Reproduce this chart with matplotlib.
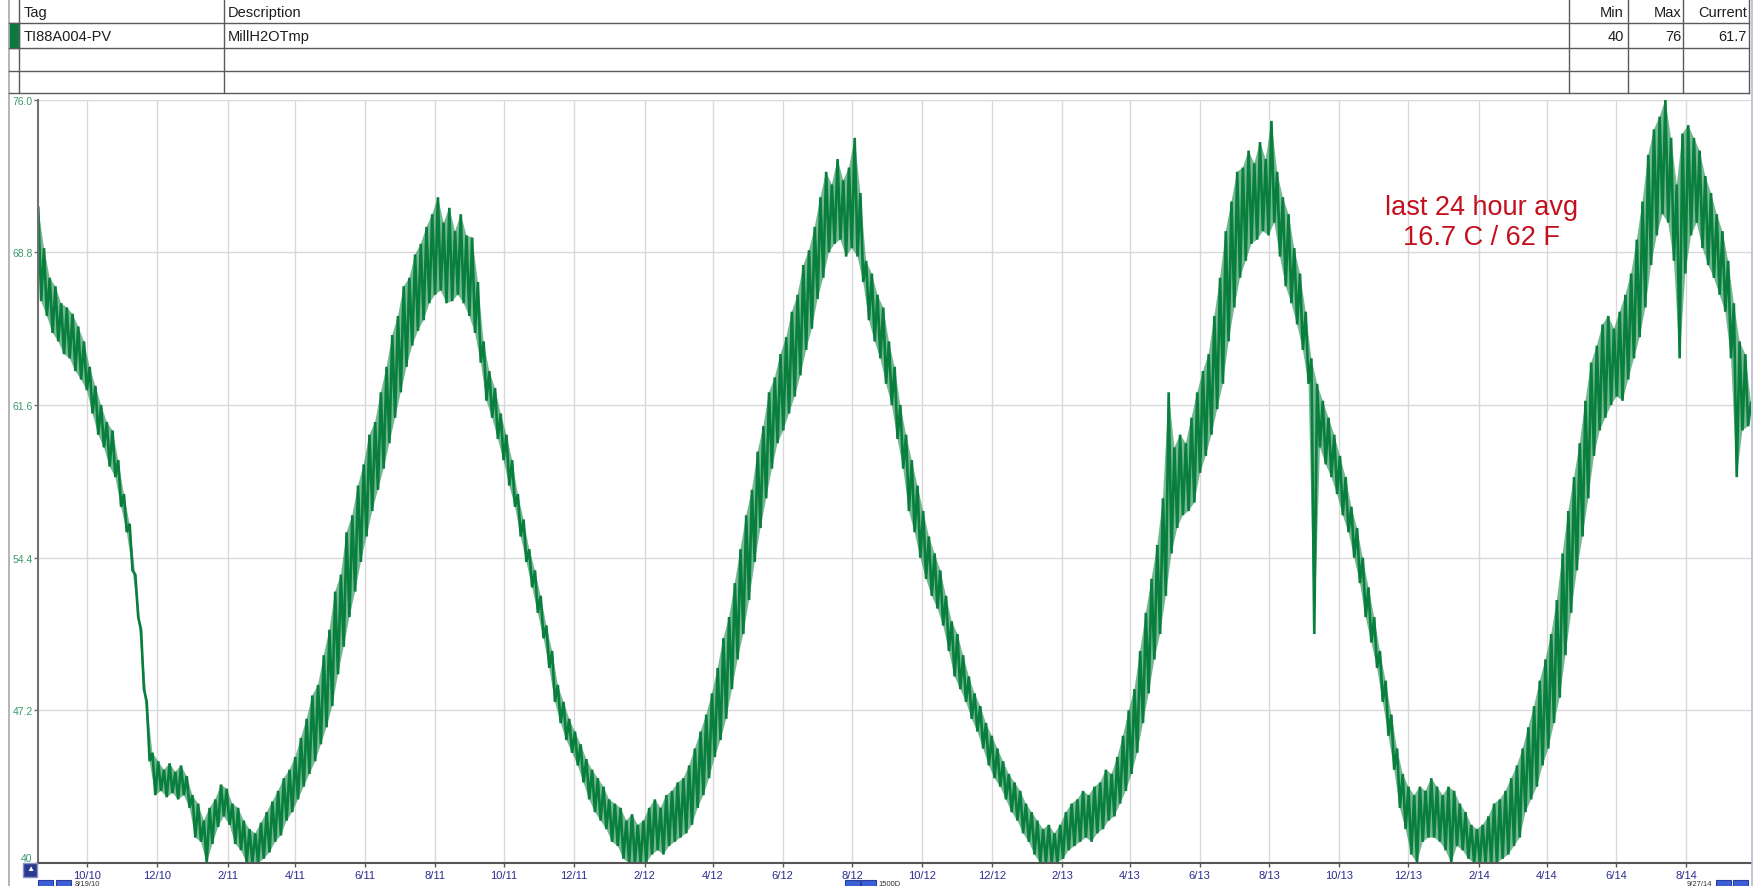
import numpy as np
import pandas as pd
import matplotlib
matplotlib.use("Agg")
import matplotlib.pyplot as plt
from matplotlib.lines import Line2D
from matplotlib.patches import Rectangle

plt.rcParams['font.family'] = ['Liberation Sans', 'DejaVu Sans']

W, H = 1756, 887
start = pd.Timestamp('2010-08-19')
end = pd.Timestamp('2014-09-27')   # 1500 days

# top / bottom of the noisy trace, read every 5 days (bottom read 2.5 days later)
upper = [70.9, 69.0, 67.6, 67.2, 66.4, 66.2, 65.9, 65.3, 64.6, 63.4,
         62.5, 61.6, 60.8, 60.4, 59.0, 57.4, 56.0, 53.6, 51.0, 47.6,
         45.2, 44.8, 44.4, 44.7, 44.3, 44.6, 44.1, 43.2, 42.8, 42.0,
         42.6, 43.0, 43.7, 43.5, 42.8, 42.6, 42.0, 41.6, 41.4, 41.9,
         42.4, 42.9, 43.4, 44.0, 44.4, 45.0, 45.9, 46.8, 47.9, 48.4,
         49.8, 51.0, 52.8, 53.6, 55.6, 56.4, 57.8, 58.8, 60.2, 60.8,
         62.2, 63.4, 64.9, 65.8, 67.2, 67.6, 68.7, 69.2, 70.0, 70.6,
         71.4, 70.2, 70.9, 69.8, 70.6, 69.6, 69.5, 67.4, 64.6, 63.2,
         62.4, 61.2, 60.2, 59.0, 57.4, 56.2, 54.8, 53.8, 52.6, 51.2,
         50.0, 48.4, 47.6, 46.8, 46.2, 45.6, 44.9, 44.4, 44.0, 43.6,
         43.0, 42.8, 42.6, 42.0, 42.3, 41.8, 42.0, 42.6, 43.0, 42.6,
         43.2, 43.4, 43.8, 44.0, 44.6, 45.4, 46.2, 47.0, 48.0, 49.2,
         50.6, 51.6, 53.2, 54.8, 56.4, 57.6, 59.4, 60.6, 62.2, 62.9,
         64.0, 64.8, 66.0, 66.8, 68.2, 68.9, 70.0, 71.4, 72.6, 72.0,
         73.2, 72.2, 72.8, 74.2, 71.6, 68.4, 67.8, 66.8, 66.2, 64.6,
         63.4, 61.6, 60.2, 59.0, 57.8, 56.6, 55.4, 54.6, 53.8, 52.6,
         51.4, 50.8, 49.8, 48.8, 48.0, 47.4, 46.6, 46.0, 45.4, 44.8,
         44.2, 43.8, 43.4, 42.8, 42.4, 42.0, 41.6, 41.8, 41.4, 41.8,
         42.4, 42.8, 43.0, 43.4, 43.2, 43.6, 43.8, 44.4, 44.2, 45.0,
         46.0, 47.2, 48.2, 50.0, 51.8, 53.4, 55.0, 57.2, 62.2, 59.6,
         60.2, 59.8, 61.0, 62.2, 63.2, 64.0, 65.8, 67.6, 69.8, 71.2,
         72.6, 72.8, 73.6, 73.0, 74.0, 73.2, 75.0, 72.6, 71.4, 70.6,
         69.0, 67.8, 66.0, 63.8, 62.6, 61.8, 61.0, 60.2, 59.2, 58.2,
         56.8, 55.8, 54.4, 53.0, 51.6, 50.0, 48.6, 47.0, 45.4, 44.2,
         43.6, 43.2, 43.6, 43.4, 44.0, 43.6, 43.2, 43.6, 43.4, 42.8,
         42.4, 41.8, 41.6, 41.8, 42.2, 42.8, 43.0, 43.4, 44.0, 44.6,
         45.4, 46.4, 47.4, 48.6, 49.6, 50.8, 52.4, 54.6, 56.6, 58.2,
         59.8, 61.8, 63.6, 64.4, 65.4, 65.8, 65.2, 66.0, 66.8, 67.8,
         69.4, 71.2, 73.4, 74.6, 75.2, 76.0, 74.2, 72.0, 74.4, 74.8,
         74.2, 73.6, 72.4, 71.6, 70.6, 69.8, 68.4, 66.4, 64.6, 64.0]
lower = [66.5, 65.8, 65.0, 64.6, 64.0, 63.8, 63.2, 62.8, 62.3, 61.2,
         60.2, 59.6, 58.7, 58.2, 56.8, 55.6, 53.8, 51.6, 48.2, 44.8,
         43.2, 43.4, 43.1, 43.3, 43.0, 43.2, 42.6, 41.2, 41.0, 40.0,
         40.9, 41.7, 42.2, 41.8, 40.9, 40.6, 40.0, 40.0, 40.0, 40.2,
         40.5, 41.0, 41.3, 42.0, 42.4, 43.0, 43.6, 44.2, 44.8, 45.6,
         46.4, 47.4, 48.9, 50.2, 51.6, 52.8, 54.2, 55.4, 56.6, 57.6,
         58.6, 59.8, 61.0, 62.2, 63.4, 64.4, 65.1, 65.6, 66.4, 66.8,
         67.0, 66.4, 66.5, 66.8, 66.4, 65.8, 65.0, 63.6, 61.8, 61.0,
         60.0, 59.0, 57.8, 56.8, 55.4, 54.2, 53.0, 51.8, 50.6, 49.2,
         47.6, 46.6, 45.8, 45.2, 44.6, 43.8, 43.0, 42.4, 42.0, 41.6,
         41.0, 40.8, 40.2, 40.0, 40.0, 40.0, 40.0, 40.4, 40.6, 40.4,
         40.8, 41.0, 41.2, 41.4, 41.8, 42.6, 43.2, 44.0, 45.0, 45.8,
         46.8, 48.2, 49.6, 50.8, 52.4, 54.2, 55.8, 57.2, 58.6, 59.8,
         60.4, 61.2, 62.0, 63.0, 64.2, 65.2, 66.6, 67.6, 68.8, 69.2,
         69.4, 68.6, 69.0, 68.6, 67.4, 65.6, 64.6, 63.8, 62.6, 61.6,
         60.0, 58.6, 56.6, 55.6, 54.4, 53.4, 52.6, 52.0, 51.2, 50.0,
         48.8, 48.2, 47.6, 46.8, 46.2, 45.4, 44.6, 44.0, 43.6, 43.0,
         42.4, 42.0, 41.4, 41.0, 40.4, 40.0, 40.0, 40.0, 40.0, 40.2,
         40.6, 40.8, 41.0, 41.2, 41.0, 41.4, 41.6, 42.0, 42.2, 42.8,
         43.4, 44.2, 45.2, 46.6, 48.0, 49.6, 50.8, 52.6, 54.6, 55.8,
         56.4, 56.6, 57.0, 58.4, 59.2, 60.2, 61.4, 62.6, 64.6, 66.2,
         67.6, 68.4, 69.2, 69.4, 69.8, 69.6, 70.2, 68.6, 67.2, 66.4,
         65.4, 64.2, 62.6, 50.8, 59.6, 58.8, 58.2, 57.4, 56.4, 55.6,
         54.4, 53.2, 51.6, 50.4, 49.2, 47.6, 46.0, 44.4, 42.6, 41.6,
         40.4, 40.0, 41.0, 41.2, 41.2, 41.0, 40.6, 40.0, 40.8, 40.6,
         40.2, 40.0, 40.0, 40.0, 40.0, 40.0, 40.2, 40.4, 40.8, 41.2,
         42.4, 43.0, 43.6, 44.6, 45.4, 46.6, 47.8, 49.8, 51.8, 53.8,
         55.4, 57.2, 59.2, 60.4, 61.0, 61.6, 62.0, 61.8, 62.8, 63.8,
         64.8, 66.2, 68.2, 69.6, 70.6, 70.2, 68.4, 63.8, 67.8, 69.6,
         70.2, 69.0, 68.2, 67.6, 66.8, 66.0, 63.8, 58.2, 60.4, 60.6]
current = 61.7

y_ticks = [40, 47.2, 54.4, 61.6, 68.8, 76.0]
y_labels = ['40', '47.2', '54.4', '61.6', '68.8', '76.0']
tick_dates = pd.date_range('2010-10-01', '2014-08-01', freq='2MS')

t_up = start + pd.to_timedelta(np.arange(len(upper)) * 5.0, unit='D')
t_lo = t_up + pd.Timedelta(hours=60)
t = np.empty(2 * len(upper), dtype='datetime64[ns]')
t[0::2] = t_up.values
t[1::2] = t_lo.values
v = np.empty(2 * len(upper))
v[0::2] = upper
v[1::2] = lower
t = np.append(t, np.datetime64(end))
v = np.append(v, current)

fig = plt.figure(figsize=(W / 100, H / 100), dpi=100)


def fx(x):
    return x / W


def fy(y):
    return 1 - y / H


green = '#087f3d'
ax = fig.add_axes([fx(38.3), fy(864), fx(1751) - fx(38.3), fy(100.7) - fy(864)])
# dense part of the trace between the daily swings
band_t = np.concatenate([t[0::2], t[1::2][::-1]])
band_v = np.concatenate([v[0::2], v[1::2][::-1]])
ax.fill(band_t, band_v, color=green, alpha=0.55, lw=0)
ax.plot(t, v, color=green, lw=1.9, solid_joinstyle='miter')
ax.set_xlim(start, end)
ax.set_ylim(40, 76)

ax.set_yticks(y_ticks)
ax.set_yticklabels(y_labels)
ax.set_xticks(tick_dates)
ax.set_xticklabels([f"{d.month}/{d.strftime('%y')}" for d in tick_dates])
ax.tick_params(axis='y', colors='#6e6e6e', labelcolor='#3a9a6c', labelsize=7.5,
               length=3, width=1, pad=1)
ax.tick_params(axis='x', colors='#555555', labelcolor='#2b2b8e', labelsize=8,
               length=3, width=1, pad=2)
ax.get_yticklabels()[0].set_va('bottom')
ax.grid(True, color='#d9d9d9', lw=1)
ax.set_axisbelow(True)
for s in ['top', 'right']:
    ax.spines[s].set_visible(False)
ax.spines['left'].set_color('#707070')
ax.spines['left'].set_linewidth(1.5)
ax.spines['bottom'].set_color('#555555')
ax.spines['bottom'].set_linewidth(1.5)

ax.text(0.8425, 0.84, 'last 24 hour avg\n16.7 C / 62 F', transform=ax.transAxes,
        ha='center', va='center', fontsize=19.5, color='#c3101e', linespacing=1.2)


def line(x0, y0, x1, y1, color='#5a5a5a', lw=1.0):
    fig.add_artist(Line2D([fx(x0), fx(x1)], [fy(y0), fy(y1)], color=color, lw=lw))


# outer frame
line(9.3, 0, 9.3, H, color='#a8a8a8', lw=1.2)
line(1752, 0, 1752, H, color='#b4bccb', lw=1.2)

# tag table
for y in [24.3, 49, 71.7, 94.3]:
    line(9.3, y, 1749, y)
for x in [19, 224, 1569, 1628, 1683, 1749]:
    line(x, 0, x, 94.3)
fig.add_artist(Rectangle((fx(9.3), fy(49)), fx(19) - fx(9.3), fy(24.3) - fy(49),
                         transform=fig.transFigure, color='#0b7a3e'))

header = ['Tag', 'Description']
row = ['TI88A004-PV', 'MillH2OTmp']
for x, h, r in zip([24, 228], header, row):
    fig.text(fx(x), fy(13), h, ha='left', va='center', fontsize=10.5, color='#1e1e1e')
    fig.text(fx(x), fy(37), r, ha='left', va='center', fontsize=10.5, color='#1e1e1e')
for x, h, r in zip([1624, 1682, 1747], ['Min', 'Max', 'Current'], ['40', '76', '61.7']):
    fig.text(fx(x), fy(13), h, ha='right', va='center', fontsize=10.5, color='#1e1e1e')
    fig.text(fx(x), fy(37), r, ha='right', va='center', fontsize=10.5, color='#1e1e1e')

# bottom controls
fig.add_artist(Rectangle((fx(23), fy(878)), fx(14), fy(864) - fy(878),
                         transform=fig.transFigure, facecolor='#2d3b8e', edgecolor='#8894c8', lw=1))
fig.text(fx(30), fy(870), '\u25b2', ha='center', va='center', fontsize=6, color='white')
for x0 in [38, 56, 845, 861, 1716, 1733]:
    fig.add_artist(Rectangle((fx(x0), fy(897)), fx(15), fy(881) - fy(897),
                             transform=fig.transFigure, facecolor='#3d5fd6', edgecolor='#2a3ea0', lw=0.8))
for x, s, ha in [(75, '8/19/10', 'left'), (878, '1500D', 'left'), (1712, '9/27/14', 'right')]:
    fig.text(fx(x), fy(886.5), s, ha=ha, va='baseline', fontsize=5.5, color='#333333')

fig.savefig('out.png', dpi=100)
